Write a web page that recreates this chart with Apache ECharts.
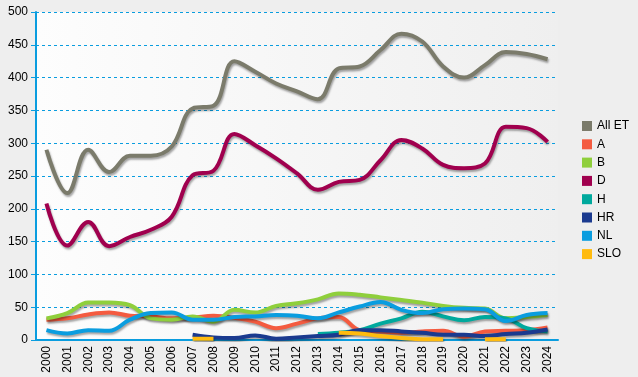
<!DOCTYPE html>
<html>
<head>
<meta charset="utf-8">
<script src="https://cdn.jsdelivr.net/npm/echarts@6/dist/echarts.min.js"></script>
<style>
  html, body { margin: 0; padding: 0; background: #eeeeee; }
  #chart { width: 638px; height: 377px; }
</style>
</head>
<body>
<div id="chart"></div>
<script>
// years on the x axis
const years = ['2000', '2001', '2002', '2003', '2004', '2005', '2006', '2007', '2008', '2009', '2010', '2011', '2012',
  '2013', '2014', '2015', '2016', '2017', '2018', '2019', '2020', '2021', '2022', '2023', '2024']

// series values
const allEt = [290, 224, 290, 256, 281, 281, 295, 353, 357, 425, 409, 391, 379, 367, 414, 417, 442, 467, 455, 417, 400, 419, 439, 436, 428]
const a = [31, 33, 39, 42, 37, 36, 33, 34, 37, 34, 28, 18, 25, 33, 35, 15, 13, 11, 13, 14, 5, 13, 14, 15, 19]
const b = [33, 41, 57, 57, 53, 33, 31, 36, 28, 46, 42, 52, 56, 62, 71, 69, 65, 61, 57, 52, 49, 48, 33, 35, 38]
const d = [208, 144, 180, 143, 157, 168, 188, 251, 258, 314, 297, 277, 254, 229, 241, 244, 274, 305, 292, 267, 262, 269, 325, 323, 302]
const h = [null, null, null, null, null, null, null, null, null, null, null, null, null, 9, 11, 15, 25, 33, 43, 36, 30, 35, 33, 18, 13]
const hr = [null, null, null, null, null, null, null, 8, 4, 3, 7, 2, 4, 6, 8, 15, 15, 13, 11, 8, 8, 6, 9, 11, 16]
const nl = [15, 10, 15, 14, 31, 41, 42, 31, 31, 35, 36, 38, 37, 33, 42, 51, 58, 46, 41, 47, 48, 47, 29, 38, 41]
const slo = [null, null, null, null, null, null, null, 2, 2, null, null, null, null, null, 11, 10, 6, 3, 1, 1, null, 1, 1, null, null]

const names = ['All ET', 'A', 'B', 'D', 'H', 'HR', 'NL', 'SLO']
const values = [allEt, a, b, d, h, hr, nl, slo]
const colors = ['#7b7b6b', '#f45b40', '#8fcf3c', '#a0004e', '#00a99d', '#1b3a8f', '#0a9ddf', '#ffbb0f']

const chart = echarts.init(document.getElementById('chart'))

// 每条线都画成粗的平滑曲线，带一点灰色阴影
const series = names.map((name, i) => ({
  name: name,
  type: 'line',
  data: values[i],
  smooth: 0.4,
  symbol: 'none',
  connectNulls: false,
  lineStyle: {
    width: 4,
    color: colors[i],
    shadowColor: 'rgba(0,0,0,0.35)',
    shadowBlur: 2,
    shadowOffsetX: 1,
    shadowOffsetY: 2,
  },
  itemStyle: { color: colors[i] },
}))

chart.setOption({
  backgroundColor: '#eeeeee',
  animation: false,
  textStyle: { fontFamily: 'Arial, "Liberation Sans", sans-serif' },
  grid: {
    left: 36,
    right: 80,
    top: 12,
    bottom: 37,
    show: true,
    borderWidth: 0,
    backgroundColor: new echarts.graphic.LinearGradient(0, 0, 1, 0, [
      { offset: 0, color: '#fdfdfd' },
      { offset: 1, color: '#efefef' },
    ]),
  },
  legend: {
    orient: 'vertical',
    left: 577,
    top: 115,
    icon: 'rect',
    itemWidth: 10,
    itemHeight: 10,
    itemGap: 6.3,
    textStyle: { color: '#000', fontSize: 12 },
    data: names,
  },
  xAxis: {
    type: 'category',
    data: years,
    boundaryGap: true,
    axisLine: { lineStyle: { color: '#0a9ddf', width: 2 } },
    axisTick: { alignWithLabel: true, length: 5, lineStyle: { color: '#0a9ddf' } },
    axisLabel: { rotate: 90, color: '#000', fontSize: 12, margin: 6, interval: 0 },
    splitLine: { show: false },
  },
  yAxis: {
    type: 'value',
    min: 0,
    max: 500,
    interval: 50,
    axisLine: { show: true, lineStyle: { color: '#0a9ddf', width: 2 } },
    axisTick: { show: true, length: 5, lineStyle: { color: '#0a9ddf' } },
    axisLabel: { color: '#000', fontSize: 12, margin: 8 },
    splitLine: { lineStyle: { color: '#0a9ddf', type: [3, 3], width: 1 } },
  },
  series: series,
})
</script>
</body>
</html>
